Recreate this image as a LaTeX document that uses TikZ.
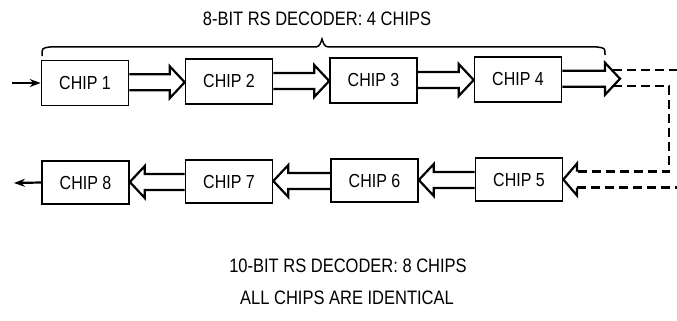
\documentclass[tikz,border=0pt]{standalone}
\usepackage{fontspec}
\setmainfont{Liberation Sans}
\usetikzlibrary{arrows.meta,calc}
\newcommand\tallt[1]{\scalebox{1}[1.18]{#1}}
% hollow arrow pointing right: from #1 to tip #2
\newcommand\harrowR[2]{%
  \draw[hol] let \p1=#1, \p2=#2, \p3=($#1!.5!#2$) in
    (\x1,\y3+8pt) -- (\x2-15pt,\y3+8pt) -- (\x2-15pt,\y3+16pt) -- (\x2,\y3)
    -- (\x2-15pt,\y3-16pt) -- (\x2-15pt,\y3-8pt) -- (\x1,\y3-8pt);}
% hollow arrow pointing left: from #1 to tip #2
\newcommand\harrowL[2]{%
  \draw[hol] let \p1=#1, \p2=#2, \p3=($#1!.5!#2$) in
    (\x1,\y3+8pt) -- (\x2+15pt,\y3+8pt) -- (\x2+15pt,\y3+16pt) -- (\x2,\y3)
    -- (\x2+15pt,\y3-16pt) -- (\x2+15pt,\y3-8pt) -- (\x1,\y3-8pt);}
\begin{document}
\begin{tikzpicture}[x=1pt,y=-1pt,
  chip/.style={draw,line width=1.6pt,minimum width=87pt,minimum height=45pt,inner sep=0pt,
    font=\fontsize{16}{19}\selectfont},
  chipb/.style={chip,minimum height=43pt},
  lbl/.style={font=\fontsize{16.5}{19}\selectfont},
  hol/.style={line width=2.2pt,line join=miter},
  dsh/.style={line width=2.2pt,dash pattern=on 9pt off 5pt},
  io/.style={line width=2.2pt,-{Stealth[length=11pt,width=8pt]}}]
\useasboundingbox (0,0) rectangle (677,321);

\node[lbl] (t1) at (317,19) {\tallt{8-BIT RS DECODER: 4 CHIPS}};
\node[lbl] (t2) at (348,266) {\tallt{10-BIT RS DECODER: 8 CHIPS}};
\node[lbl] (t3) at (347,298) {\tallt{ALL CHIPS ARE IDENTICAL}};

\node[chip] (c1) at (85,83) {\tallt{CHIP 1}};
\node[chip] (c2) at (229,81.5) {\tallt{CHIP 2}};
\node[chip] (c3) at (373.5,80.5) {\tallt{CHIP 3}};
\node[chip] (c4) at (518,79.5) {\tallt{CHIP 4}};
\node[chipb] (c5) at (519,179.5) {\tallt{CHIP 5}};
\node[chipb] (c6) at (374.5,180.5) {\tallt{CHIP 6}};
\node[chipb] (c7) at (229,181.5) {\tallt{CHIP 7}};
\node[chipb] (c8) at (85.5,182.5) {\tallt{CHIP 8}};

% brace
\draw[line width=1.5pt] (42,56) .. controls (42,48) .. (50,47) -- (316,47)
  .. controls (320,46.5) and (321,42) .. (322,39)
  .. controls (323,42) and (324,46.5) .. (328,47) -- (597,47)
  .. controls (605,48) .. (605,55);

% input / output
\coordinate (in) at (12,83);
\coordinate (out) at (14,183);
\draw[io] (in) -- (c1.west);
\draw[io] (c8.west) -- (out);

% hollow arrows
\harrowR{(c1.east)}{(c2.west)}
\harrowR{(c2.east)}{(c3.west)}
\harrowR{(c3.east)}{(c4.west)}
\coordinate (t4) at (620,78);
\harrowR{(c4.east)}{(t4)}
\harrowL{(c5.west)}{(c6.east)}
\harrowL{(c6.west)}{(c7.east)}
\harrowL{(c7.west)}{(c8.east)}

% head into chip 5
\draw[hol] (577,171.5) -- (577,163.5) -- (c5.east) -- (577,195.5) -- (577,187.5);

% dashed continuation
\coordinate (d1) at (612.5,70);
\coordinate (d2) at (612.5,86);
\coordinate (d3) at (669,86);
\coordinate (d4) at (669,171.5);
\coordinate (d5) at (577,171.5);
\coordinate (d6) at (577,187.5);
\draw[dsh] (d1) -- (677,70);
\draw[dsh] (d2) -- (d3) -- (d4) -- (d5);
\draw[dsh] (d6) -- (677,187.5);
\end{tikzpicture}
\end{document}
